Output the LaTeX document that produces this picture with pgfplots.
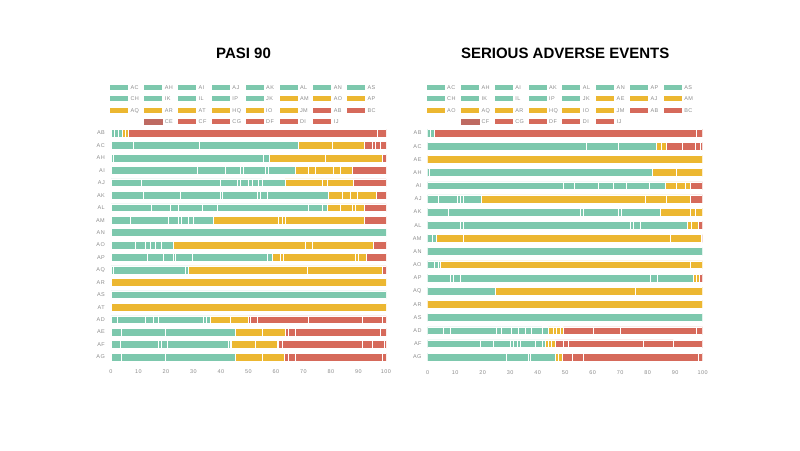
\documentclass[border=0pt]{standalone}
\usepackage{fontspec}
\setmainfont{Liberation Sans}
\newfontfamily\lblfont[LetterSpace=8]{Liberation Sans}
\usepackage{pgfplots}
\usepackage{pgfplotstable}
\pgfplotsset{compat=1.18}
\definecolor{grn}{HTML}{7DC8AD}
\definecolor{ylw}{HTML}{ECB731}
\definecolor{red1}{HTML}{D66A5B}
\definecolor{red2}{HTML}{BE6A62}
\definecolor{lblgray}{HTML}{8C8C8C}

% PASI 90: columns g = green components, a = yellow components, r = red components
\pgfplotstableread{
y g1 g2 g3 g4 g5 g6 g7 g8 g9 g10 g11 g12 g13 a1 a2 a3 a4 a5 a6 a7 a8 a9 r1 r2 r3 r4 r5 r6 r7 r8
0 1.1 1.6 1.5 0 0 0 0 0 0 0 0 0 0 0.8 1.3 0 0 0 0 0 0 0 90.4 3.3 0 0 0 0 0 0
1 8.1 23.9 36.2 0 0 0 0 0 0 0 0 0 0 12.4 11.6 0 0 0 0 0 0 0 2.7 1.2 1.8 2.1 0 0 0 0
2 0.9 54.6 2.0 0 0 0 0 0 0 0 0 0 0 20.4 20.6 0 0 0 0 0 0 0 1.5 0 0 0 0 0 0 0
3 31.2 10.3 5.5 1.2 7.9 1.2 9.7 0 0 0 0 0 0 4.8 2.5 6.6 2.5 4.2 0 0 0 0 12.4 0 0 0 0 0 0 0
4 10.9 28.8 6.1 1.2 3.0 1.2 2.4 1.3 8.4 0 0 0 0 13.4 1.8 9.7 0 0 0 0 0 0 11.8 0 0 0 0 0 0 0
5 11.8 13.3 14.6 0.6 12.7 1.2 2.5 22.2 0 0 0 0 0 5.1 3.0 2.4 7.1 0 0 0 0 0 3.5 0 0 0 0 0 0 0
6 14.8 6.7 3.0 8.5 5.5 33.3 4.9 1.8 0 0 0 0 0 4.9 4.2 1.2 3.4 0 0 0 0 0 7.8 0 0 0 0 0 0 0
7 6.9 14.0 3.6 1.2 2.5 1.8 7.3 0 0 0 0 0 0 23.6 1.2 1.2 28.9 0 0 0 0 0 7.8 0 0 0 0 0 0 0
8 100 0 0 0 0 0 0 0 0 0 0 0 0 0 0 0 0 0 0 0 0 0 0 0 0 0 0 0 0 0
9 8.7 3.7 1.8 1.8 2.4 4.3 0 0 0 0 0 0 0 47.9 2.5 22.4 0 0 0 0 0 0 4.5 0 0 0 0 0 0 0
10 13.0 6.1 3.6 0.6 6.1 27.3 1.8 0 0 0 0 0 0 3.0 1.2 26.1 1.2 2.7 0 0 0 0 7.3 0 0 0 0 0 0 0
11 0.8 26.1 1.3 0 0 0 0 0 0 0 0 0 0 43.0 27.3 0 0 0 0 0 0 0 1.5 0 0 0 0 0 0 0
12 0 0 0 0 0 0 0 0 0 0 0 0 0 100 0 0 0 0 0 0 0 0 0 0 0 0 0 0 0 0
13 100 0 0 0 0 0 0 0 0 0 0 0 0 0 0 0 0 0 0 0 0 0 0 0 0 0 0 0 0 0
14 0 0 0 0 0 0 0 0 0 0 0 0 0 100 0 0 0 0 0 0 0 0 0 0 0 0 0 0 0 0
15 2.1 10.3 3.0 1.8 16.4 1.2 1.2 0 0 0 0 0 0 7.3 6.7 0 0 0 0 0 0 0 0.6 2.4 18.8 19.5 7.2 1.5 0 0
16 3.9 15.8 25.4 0 0 0 0 0 0 0 0 0 0 9.8 8.4 0 0 0 0 0 0 0 1.3 2.4 30.9 2.1 0 0 0 0
17 3.3 13.9 1.2 1.9 22.4 0.6 0.6 0 0 0 0 0 0 8.5 7.9 0 0 0 0 0 0 0 0.6 1.2 29.2 3.6 4.3 0.8 0 0
18 3.9 15.8 25.4 0 0 0 0 0 0 0 0 0 0 9.8 8.2 0 0 0 0 0 0 0 1.5 2.4 31.5 1.5 0 0 0 0
}\tblL

% SERIOUS ADVERSE EVENTS
\pgfplotstableread{
y g1 g2 g3 g4 g5 g6 g7 g8 g9 g10 g11 g12 g13 a1 a2 a3 a4 a5 a6 a7 a8 a9 r1 r2 r3 r4 r5 r6 r7
0 1.1 1.2 0 0 0 0 0 0 0 0 0 0 0 0 0 0 0 0 0 0 0 0 95.5 2.2 0 0 0 0 0
1 57.5 11.8 13.7 0 0 0 0 0 0 0 0 0 0 2.1 1.8 0 0 0 0 0 0 0 5.5 4.8 1.8 1.0 0 0 0
2 0 0 0 0 0 0 0 0 0 0 0 0 0 100 0 0 0 0 0 0 0 0 0 0 0 0 0 0 0
3 0.6 80.9 0 0 0 0 0 0 0 0 0 0 0 9.0 9.5 0 0 0 0 0 0 0 0 0 0 0 0 0 0
4 49.3 3.9 8.9 5.2 4.8 8.5 5.7 0 0 0 0 0 0 4.2 3.1 1.8 0 0 0 0 0 0 4.6 0 0 0 0 0 0
5 3.9 6.9 1.0 1.2 6.6 0 0 0 0 0 0 0 0 59.4 7.9 8.5 0 0 0 0 0 0 4.6 0 0 0 0 0 0
6 7.5 47.9 1.2 12.7 1.2 14.0 0 0 0 0 0 0 0 10.9 1.8 2.8 0 0 0 0 0 0 0 0 0 0 0 0 0
7 11.8 1.2 60.6 1.2 2.4 17.0 0 0 0 0 0 0 0 1.8 2.4 0 0 0 0 0 0 0 1.6 0 0 0 0 0 0
8 1.5 1.5 0 0 0 0 0 0 0 0 0 0 0 10.0 75.1 11.3 0 0 0 0 0 0 0.6 0 0 0 0 0 0
9 100 0 0 0 0 0 0 0 0 0 0 0 0 0 0 0 0 0 0 0 0 0 0 0 0 0 0 0 0
10 2.3 1.6 0.8 0 0 0 0 0 0 0 0 0 0 90.7 4.6 0 0 0 0 0 0 0 0 0 0 0 0 0 0
11 8.1 1.2 2.5 69.0 2.5 13.3 0 0 0 0 0 0 0 1.2 1.0 0 0 0 0 0 0 0 1.2 0 0 0 0 0 0
12 24.5 0 0 0 0 0 0 0 0 0 0 0 0 50.9 24.6 0 0 0 0 0 0 0 0 0 0 0 0 0 0
13 0 0 0 0 0 0 0 0 0 0 0 0 0 100 0 0 0 0 0 0 0 0 0 0 0 0 0 0 0
14 100 0 0 0 0 0 0 0 0 0 0 0 0 0 0 0 0 0 0 0 0 0 0 0 0 0 0 0 0
15 5.7 2.4 17.0 1.8 3.6 2.5 2.4 2.4 3.7 2.4 0 0 0 1.8 1.2 1.2 1.2 0 0 0 0 0 10.9 9.7 27.9 2.2 0 0 0
16 19.0 4.9 6.0 1.2 1.3 1.2 5.4 2.5 1.2 0 0 0 0 1.2 1.2 1.2 0 0 0 0 0 0 3.0 1.9 27.2 10.9 10.7 0 0
17 28.7 7.9 0.6 9.1 0 0 0 0 0 0 0 0 0 1.2 1.6 0 0 0 0 0 0 0 3.3 4.2 41.8 1.6 0 0 0
}\tblR

\pgfplotsset{
  darkleg/.style={legend image code/.code={\fill[red2] (0pt,-2.5pt) rectangle (18pt,2.5pt);}},
  segaxis/.style={
    xbar stacked, bar width=7.8pt,
    scale only axis, width=275pt,
    xmin=0, xmax=100, y dir=reverse,
    axis line style={draw=none}, major tick length=0pt,
    xtick={0,10,...,100}, xticklabels={0,10,20,30,40,50,60,70,80,90,100},
    every tick label/.append style={font=\lblfont\fontsize{5.5}{6}\selectfont, text=lblgray},
    xticklabel style={anchor=center, yshift=-8.8pt},
    yticklabel style={anchor=east, inner xsep=0pt, xshift=-6pt},
    every axis plot/.append style={draw=white, line width=0.5pt},
    legend image code/.code={\draw[##1,draw=none] (0pt,-2.5pt) rectangle (18pt,2.5pt);},
    legend columns=8,
    legend cell align=left,
    legend style={draw=none, fill=none, inner sep=0pt, outer sep=0pt,
      font=\lblfont\fontsize{5.5}{6}\selectfont, text=lblgray,
      column sep=0pt, row sep=6.3pt, anchor=north west,
      nodes={text width=9pt, text height=4pt, text depth=0pt, inner xsep=2.5pt, inner ysep=0pt},
      /tikz/every even column/.append style={column sep=1.8pt}},
    title style={font=\bfseries\fontsize{15}{18}\selectfont, anchor=center, at={(0.5,1)}},
  }
}
\newcommand{\seg}[4]{\addplot[fill=#1] table[x=#2,y=y]{#3}; \addlegendentry{#4}}
\newcommand{\segD}[4]{\addplot[fill=#1, darkleg] table[x=#2,y=y]{#3}; \addlegendentry{#4}}

\begin{document}
\begin{tikzpicture}
\useasboundingbox (0,0) rectangle (800pt,450pt);

\begin{axis}[segaxis,
  at={(111pt,86.8pt)}, anchor=south west, height=236.4pt,
  ymin=-0.5, ymax=18.5, ytick={0,...,18},
  yticklabels={AB,AC,AH,AI,AJ,AK,AL,AM,AN,AO,AP,AQ,AR,AS,AT,AD,AE,AF,AG},
  title={PASI 90}, title style={yshift=67pt, xshift=-5pt},
  legend style={at={(-0.0036,1.1768)}},
]
\seg{grn}{g1}{\tblL}{AC}
\seg{grn}{g2}{\tblL}{AH}
\seg{grn}{g3}{\tblL}{AI}
\seg{grn}{g4}{\tblL}{AJ}
\seg{grn}{g5}{\tblL}{AK}
\seg{grn}{g6}{\tblL}{AL}
\seg{grn}{g7}{\tblL}{AN}
\seg{grn}{g8}{\tblL}{AS}
\seg{grn}{g9}{\tblL}{CH}
\seg{grn}{g10}{\tblL}{IK}
\seg{grn}{g11}{\tblL}{IL}
\seg{grn}{g12}{\tblL}{IP}
\seg{grn}{g13}{\tblL}{JK}
\seg{ylw}{a1}{\tblL}{AM}
\seg{ylw}{a2}{\tblL}{AO}
\seg{ylw}{a3}{\tblL}{AP}
\seg{ylw}{a4}{\tblL}{AQ}
\seg{ylw}{a5}{\tblL}{AR}
\seg{ylw}{a6}{\tblL}{AT}
\seg{ylw}{a7}{\tblL}{HQ}
\seg{ylw}{a8}{\tblL}{IO}
\seg{ylw}{a9}{\tblL}{JM}
\seg{red1}{r1}{\tblL}{AB}
\seg{red1}{r2}{\tblL}{BC}
\addlegendimage{empty legend}\addlegendentry{}
\segD{red1}{r3}{\tblL}{CE}
\seg{red1}{r4}{\tblL}{CF}
\seg{red1}{r5}{\tblL}{CG}
\seg{red1}{r6}{\tblL}{DF}
\seg{red1}{r7}{\tblL}{DI}
\seg{red1}{r8}{\tblL}{IJ}
\end{axis}

\begin{axis}[segaxis,
  at={(427.7pt,86.4pt)}, anchor=south west, height=237.2pt,
  ymin=-0.5, ymax=17.5, ytick={0,...,17},
  yticklabels={AB,AC,AE,AH,AI,AJ,AK,AL,AM,AN,AO,AP,AQ,AR,AS,AD,AF,AG},
  title={SERIOUS ADVERSE EVENTS}, title style={yshift=67.4pt},
  legend style={at={(-0.0036,1.1745)}},
]
\seg{grn}{g1}{\tblR}{AC}
\seg{grn}{g2}{\tblR}{AH}
\seg{grn}{g3}{\tblR}{AI}
\seg{grn}{g4}{\tblR}{AK}
\seg{grn}{g5}{\tblR}{AL}
\seg{grn}{g6}{\tblR}{AN}
\seg{grn}{g7}{\tblR}{AP}
\seg{grn}{g8}{\tblR}{AS}
\seg{grn}{g9}{\tblR}{CH}
\seg{grn}{g10}{\tblR}{IK}
\seg{grn}{g11}{\tblR}{IL}
\seg{grn}{g12}{\tblR}{IP}
\seg{grn}{g13}{\tblR}{JK}
\seg{ylw}{a1}{\tblR}{AE}
\seg{ylw}{a2}{\tblR}{AJ}
\seg{ylw}{a3}{\tblR}{AM}
\seg{ylw}{a4}{\tblR}{AO}
\seg{ylw}{a5}{\tblR}{AQ}
\seg{ylw}{a6}{\tblR}{AR}
\seg{ylw}{a7}{\tblR}{HQ}
\seg{ylw}{a8}{\tblR}{IO}
\seg{ylw}{a9}{\tblR}{JM}
\seg{red1}{r1}{\tblR}{AB}
\seg{red1}{r2}{\tblR}{BC}
\addlegendimage{empty legend}\addlegendentry{}
\segD{red1}{r3}{\tblR}{CF}
\seg{red1}{r4}{\tblR}{CG}
\seg{red1}{r5}{\tblR}{DF}
\seg{red1}{r6}{\tblR}{DI}
\seg{red1}{r7}{\tblR}{IJ}
\end{axis}
\end{tikzpicture}
\end{document}
